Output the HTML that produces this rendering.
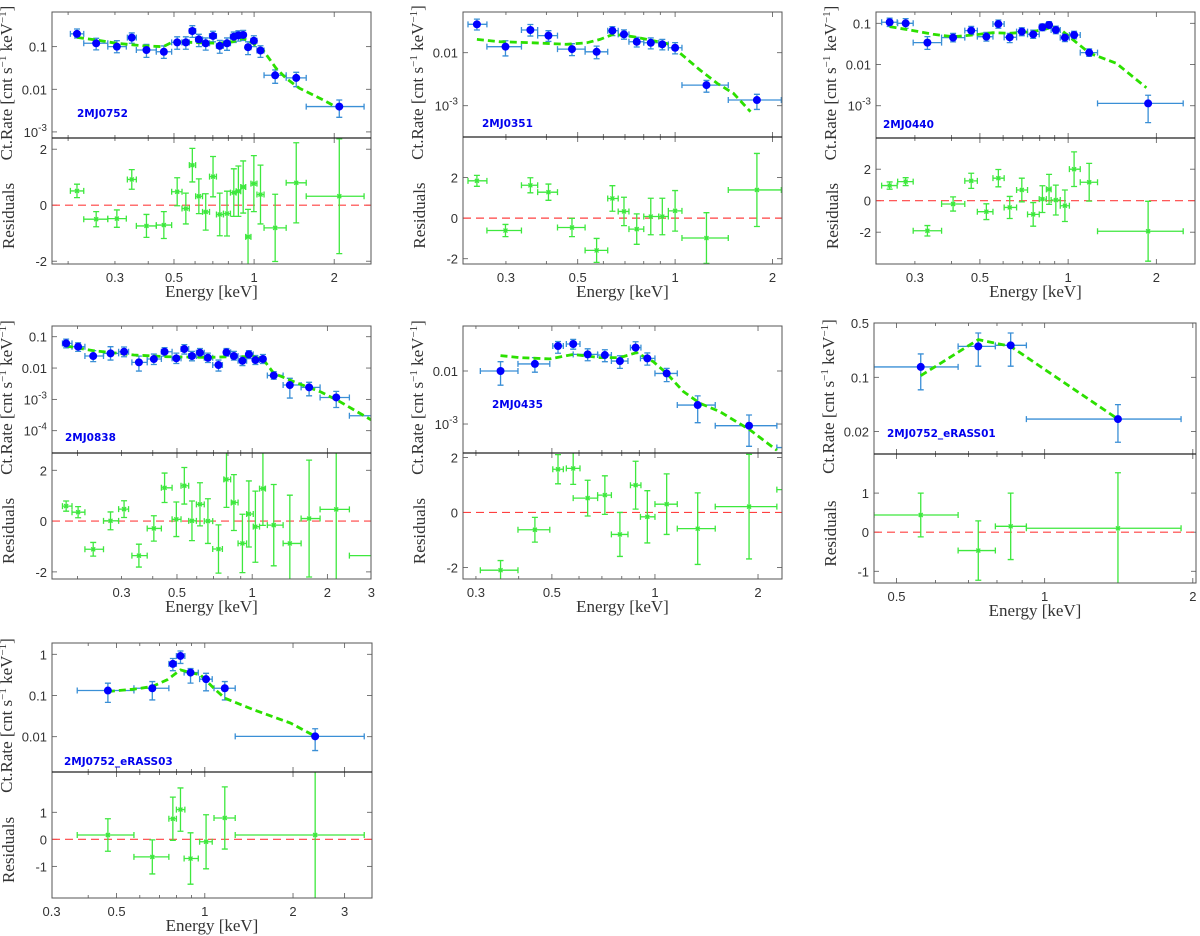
<!DOCTYPE html>
<html><head><meta charset="utf-8"><title>X-ray spectra</title>
<style>
html,body{margin:0;padding:0;background:#fff;}
svg{display:block;}
.tick{font-family:"Liberation Sans",sans-serif;font-size:13px;fill:#333;}
.axl{font-family:"Liberation Serif",serif;font-size:17px;fill:#333;}
.plab{font-family:"DejaVu Sans","Liberation Sans",sans-serif;font-size:10.5px;font-weight:bold;fill:#0000ee;}
</style></head>
<body>
<svg id="fig" xmlns="http://www.w3.org/2000/svg" width="1200" height="936" viewBox="0 0 1200 936"></svg>
<script>
// ---------- Panel 1: 2MJ0752 ----------
const P1_E   =[0.216,0.255,0.305,0.347,0.394,0.458,0.514,0.554,0.586,0.62,0.658,0.701,0.743,0.791,0.839,0.873,0.91,0.949,0.998,1.057,1.2,1.44,2.09];
const P1_Elo =[0.204,0.229,0.282,0.334,0.361,0.429,0.49,0.536,0.571,0.603,0.64,0.68,0.722,0.767,0.815,0.856,0.891,0.93,0.973,1.025,1.09,1.32,1.57];
const P1_Ehi =[0.229,0.282,0.331,0.361,0.429,0.49,0.536,0.571,0.603,0.64,0.68,0.722,0.767,0.815,0.856,0.891,0.93,0.973,1.025,1.09,1.32,1.57,2.59];
const P1_R   =[0.2,0.12,0.1,0.163,0.0835,0.076,0.126,0.126,0.233,0.148,0.12,0.178,0.104,0.12,0.171,0.184,0.188,0.097,0.138,0.081,0.0213,0.0185,0.00393];
const P1_Rlo =[0.16,0.084,0.072,0.12,0.056,0.053,0.087,0.087,0.165,0.1,0.083,0.13,0.07,0.082,0.125,0.135,0.14,0.065,0.1,0.056,0.0138,0.0115,0.0022];
const P1_Rhi =[0.26,0.157,0.138,0.21,0.113,0.104,0.17,0.17,0.31,0.195,0.16,0.23,0.14,0.16,0.22,0.235,0.24,0.13,0.18,0.105,0.0284,0.025,0.0056];
const P1_Res =[0.51,-0.5,-0.48,0.92,-0.74,-0.71,0.48,-0.12,1.43,0.32,-0.24,1.02,-0.33,-0.3,0.45,0.5,0.65,-1.13,0.77,0.38,-0.81,0.8,0.32];
const P1_ResErr=[0.24,0.27,0.31,0.35,0.41,0.48,0.5,0.55,0.6,0.62,0.65,0.72,0.76,0.8,0.85,0.9,0.93,0.98,1.0,1.05,1.2,1.43,2.05];
const P1_ME  =[0.216,0.255,0.304,0.383,0.455,0.496,0.625,0.743,0.834,0.909,0.991,1.08,1.21,1.32,1.48,1.82,2.04];
const P1_MV  =[0.165,0.143,0.12,0.105,0.1,0.131,0.124,0.12,0.131,0.157,0.12,0.0835,0.031,0.018,0.0106,0.0056,0.0038];
// ---------- Panel 2: 2MJ0351 ----------
const P2_E   =[0.244,0.299,0.357,0.406,0.48,0.572,0.64,0.695,0.761,0.841,0.913,1.0,1.25,1.79];
const P2_Elo =[0.229,0.262,0.335,0.376,0.433,0.527,0.619,0.667,0.72,0.8,0.89,0.953,1.05,1.46];
const P2_Ehi =[0.262,0.335,0.376,0.433,0.527,0.619,0.667,0.72,0.8,0.89,0.953,1.05,1.46,2.13];
const P2_R   =[0.0343,0.013,0.0268,0.021,0.0117,0.0104,0.026,0.0222,0.0161,0.0154,0.0144,0.0124,0.00245,0.00128];
const P2_Rlo =[0.0268,0.0087,0.0206,0.0163,0.0088,0.0077,0.021,0.018,0.0128,0.0118,0.0113,0.0095,0.0018,0.00085];
const P2_Rhi =[0.043,0.0168,0.034,0.026,0.0148,0.0133,0.031,0.027,0.0195,0.019,0.0178,0.0155,0.003,0.00164];
const P2_Res =[1.84,-0.61,1.62,1.28,-0.46,-1.59,0.97,0.33,-0.54,0.08,0.08,0.36,-0.98,1.39];
const P2_ResErr=[0.27,0.3,0.37,0.4,0.45,0.59,0.63,0.7,0.75,0.9,0.9,1.0,1.25,1.8];
const P2_ME  =[0.244,0.287,0.364,0.462,0.533,0.586,0.644,0.743,0.942,1.01,1.195,1.35,1.515,1.71];
const P2_MV  =[0.0178,0.0161,0.0154,0.0144,0.0154,0.0178,0.0222,0.02,0.015,0.0112,0.0047,0.00264,0.00171,0.00077];
// ---------- Panel 3: 2MJ0440 ----------
const P3_E   =[0.246,0.279,0.331,0.405,0.467,0.526,0.578,0.632,0.695,0.76,0.817,0.861,0.908,0.975,1.048,1.18,1.875];
const P3_Elo =[0.231,0.262,0.296,0.37,0.444,0.49,0.554,0.605,0.667,0.727,0.797,0.843,0.875,0.94,1.01,1.1,1.26];
const P3_Ehi =[0.261,0.296,0.37,0.444,0.49,0.554,0.605,0.667,0.727,0.797,0.843,0.875,0.94,1.01,1.1,1.26,2.47];
const P3_R   =[0.106,0.1,0.034,0.0449,0.0664,0.0474,0.096,0.0457,0.0628,0.054,0.08,0.091,0.069,0.045,0.052,0.0194,0.00114];
const P3_Rlo =[0.084,0.076,0.0233,0.0355,0.053,0.037,0.076,0.034,0.05,0.043,0.066,0.075,0.056,0.036,0.042,0.0158,0.00039];
const P3_Rhi =[0.133,0.13,0.0475,0.057,0.084,0.06,0.12,0.057,0.078,0.068,0.097,0.11,0.085,0.056,0.064,0.024,0.0018];
const P3_Res =[0.96,1.21,-1.91,-0.21,1.26,-0.7,1.43,-0.43,0.68,-0.87,0.1,0.72,0.04,-0.32,2.0,1.17,-1.94];
const P3_ResErr=[0.23,0.25,0.33,0.45,0.48,0.5,0.55,0.7,0.75,0.75,0.85,0.95,0.95,1.0,1.1,1.2,1.9];
const P3_ME  =[0.246,0.296,0.346,0.405,0.474,0.554,0.632,0.76,0.889,0.961,1.068,1.186,1.46,1.85];
const P3_MV  =[0.083,0.0664,0.054,0.0474,0.052,0.059,0.0572,0.0628,0.08,0.0628,0.034,0.0187,0.0107,0.00274];
// ---------- Panel 4: 2MJ0838 ----------
const P4_E   =[0.18,0.201,0.231,0.271,0.307,0.352,0.404,0.446,0.497,0.535,0.574,0.618,0.665,0.733,0.789,0.845,0.914,0.97,1.03,1.104,1.22,1.415,1.69,2.17,3.4];
const P4_Elo =[0.174,0.19,0.214,0.254,0.292,0.33,0.38,0.433,0.478,0.519,0.557,0.598,0.643,0.695,0.77,0.825,0.878,0.95,1.01,1.07,1.15,1.33,1.57,1.87,2.45];
const P4_Ehi =[0.19,0.214,0.254,0.292,0.32,0.38,0.433,0.478,0.519,0.557,0.598,0.643,0.695,0.76,0.82,0.878,0.95,1.01,1.07,1.13,1.33,1.57,1.87,2.45,4.5];
const P4_R   =[0.0613,0.048,0.0242,0.0294,0.0332,0.0152,0.0194,0.0332,0.0204,0.0404,0.0242,0.0309,0.0213,0.0125,0.0316,0.0242,0.0171,0.0273,0.018,0.0194,0.0058,0.00287,0.00242,0.00115,0.0003];
const P4_Rlo =[0.044,0.034,0.016,0.018,0.023,0.008,0.013,0.024,0.014,0.028,0.017,0.022,0.015,0.008,0.024,0.018,0.012,0.02,0.013,0.014,0.0044,0.0011,0.0013,0.00055,0.0001];
const P4_Rhi =[0.084,0.064,0.036,0.048,0.047,0.024,0.028,0.045,0.03,0.056,0.034,0.042,0.03,0.018,0.042,0.034,0.024,0.036,0.025,0.027,0.0077,0.0047,0.0035,0.0018,0.0006];
const P4_Res =[0.59,0.35,-1.11,0.01,0.47,-1.36,-0.29,1.31,0.07,1.39,0.01,0.66,0.0,-1.1,1.64,0.73,-0.88,0.28,-0.22,1.28,-0.16,-0.88,0.1,0.46,-1.36];
const P4_ResErr=[0.2,0.22,0.27,0.35,0.33,0.45,0.5,0.58,0.68,0.72,0.78,0.85,0.88,0.95,1.1,1.1,1.15,1.3,1.4,1.45,1.6,1.9,2.3,2.88,1.5];
const P4_ME  =[0.18,0.232,0.336,0.457,0.661,0.845,1.015,1.113,1.221,1.468,1.876,2.187,3.0];
const P4_MV  =[0.0504,0.0357,0.026,0.023,0.0219,0.023,0.023,0.018,0.0068,0.00366,0.00175,0.00095,0.00022];
// ---------- Panel 5: 2MJ0435 ----------
const P5_E   =[0.354,0.446,0.521,0.577,0.636,0.714,0.79,0.878,0.95,1.082,1.333,1.883,2.6];
const P5_Elo =[0.309,0.398,0.503,0.551,0.577,0.68,0.746,0.848,0.907,1.0,1.162,1.5,2.27];
const P5_Ehi =[0.398,0.493,0.54,0.604,0.68,0.746,0.834,0.91,1.0,1.162,1.5,2.27,3.0];
const P5_R   =[0.01,0.0136,0.0296,0.0323,0.0206,0.02,0.0154,0.0276,0.0173,0.009,0.00228,0.00093,0.00036];
const P5_Rlo =[0.0054,0.0095,0.0216,0.0258,0.0156,0.015,0.0112,0.0216,0.0129,0.0063,0.00106,0.00038,0.0001];
const P5_Rhi =[0.015,0.0179,0.036,0.0394,0.0262,0.0252,0.0194,0.0356,0.0219,0.0112,0.0034,0.00148,0.0007];
const P5_Res =[-2.1,-0.63,1.57,1.6,0.52,0.63,-0.8,0.99,-0.16,0.3,-0.59,0.21,0.83];
const P5_ResErr=[0.35,0.45,0.53,0.58,0.65,0.7,0.8,0.87,0.95,1.1,1.3,1.9,2.0];
const P5_ME  =[0.354,0.403,0.493,0.577,0.69,0.79,0.884,0.989,1.082,1.21,1.354,1.549,1.896,2.27];
const P5_MV  =[0.0195,0.0179,0.0169,0.0206,0.0179,0.0179,0.0222,0.015,0.009,0.0041,0.00246,0.00171,0.00077,0.00032];
// ---------- Panel 6: 2MJ0752_eRASS01 ----------
const P6_E   =[0.56,0.733,0.853,1.409];
const P6_Elo =[0.45,0.667,0.794,0.918];
const P6_Ehi =[0.667,0.794,0.918,1.893];
const P6_R   =[0.136,0.25,0.258,0.029];
const P6_Rlo =[0.069,0.139,0.139,0.0146];
const P6_Rhi =[0.2,0.372,0.372,0.0445];
const P6_Res =[0.44,-0.47,0.15,0.1];
const P6_ResErr=[0.56,0.76,0.85,1.42];
const P6_ME  =[0.56,0.733,0.853,1.409];
const P6_MV  =[0.105,0.306,0.25,0.029];
// ---------- Panel 7: 2MJ0752_eRASS03 ----------
const P7_E   =[0.467,0.662,0.778,0.826,0.894,1.01,1.17,2.38];
const P7_Elo =[0.367,0.573,0.754,0.8,0.85,0.96,1.075,1.27];
const P7_Ehi =[0.573,0.754,0.8,0.855,0.95,1.06,1.27,3.5];
const P7_R   =[0.132,0.15,0.584,0.911,0.36,0.249,0.15,0.0102];
const P7_Rlo =[0.068,0.078,0.4,0.6,0.2,0.13,0.078,0.0046];
const P7_Rhi =[0.199,0.218,0.79,1.2,0.45,0.345,0.218,0.0156];
const P7_Res =[0.16,-0.65,0.76,1.1,-0.71,-0.09,0.79,0.16];
const P7_ResErr=[0.6,0.63,0.8,0.8,0.95,1.0,1.15,2.4];
const P7_ME  =[0.467,0.573,0.662,0.744,0.826,0.894,0.967,1.073,1.17,1.47,1.96,2.38];
const P7_MV  =[0.125,0.142,0.165,0.24,0.418,0.36,0.316,0.15,0.086,0.045,0.0215,0.0102];

const NS="http://www.w3.org/2000/svg";
const svg=document.getElementById('fig');
function mk(tag,attrs,parent){const e=document.createElementNS(NS,tag);for(const k in attrs)e.setAttribute(k,attrs[k]);(parent||svg).appendChild(e);return e;}
const lg=Math.log10;

const panels=[
 {id:'p1',name:'2MJ0752',L:52,R:371,T:12,M:138,B:264,xmin:0.174,xmax:2.75,ymin:7.2e-4,ymax:0.65,rmin:-2.1,rmax:2.4,
  xt:[0.3,0.5,1,2],yt:[[0.1,'0.1'],[0.01,'0.01'],[1e-3,'e-3']],rt:[2,0,-2],lx:77,ly:113,
  d:[P1_E,P1_Elo,P1_Ehi,P1_R,P1_Rlo,P1_Rhi,P1_Res,P1_ResErr,P1_ME,P1_MV]},
 {id:'p2',name:'2MJ0351',L:463,R:782,T:12,M:137,B:264,xmin:0.221,xmax:2.14,ymin:2.57e-4,ymax:0.0586,rmin:-2.26,rmax:4.0,
  xt:[0.3,0.5,1,2],yt:[[0.01,'0.01'],[1e-3,'e-3']],rt:[2,0,-2],lx:482,ly:123,
  d:[P2_E,P2_Elo,P2_Ehi,P2_R,P2_Rlo,P2_Rhi,P2_Res,P2_ResErr,P2_ME,P2_MV]},
 {id:'p3',name:'2MJ0440',L:876,R:1195,T:12,M:138,B:264,xmin:0.221,xmax:2.71,ymin:1.65e-4,ymax:0.188,rmin:-4.02,rmax:3.98,
  xt:[0.3,0.5,1,2],yt:[[0.1,'0.1'],[0.01,'0.01'],[1e-3,'e-3']],rt:[2,0,-2],lx:883,ly:124,
  d:[P3_E,P3_Elo,P3_Ehi,P3_R,P3_Rlo,P3_Rhi,P3_Res,P3_ResErr,P3_ME,P3_MV]},
 {id:'p4',name:'2MJ0838',L:52,R:371,T:326,M:453,B:579,xmin:0.158,xmax:2.99,ymin:1.94e-5,ymax:0.22,rmin:-2.28,rmax:2.68,
  xt:[0.3,0.5,1,2,3],yt:[[0.1,'0.1'],[0.01,'0.01'],[1e-3,'e-3'],[1e-4,'e-4']],rt:[2,0,-2],lx:65,ly:437,
  d:[P4_E,P4_Elo,P4_Ehi,P4_R,P4_Rlo,P4_Rhi,P4_Res,P4_ResErr,P4_ME,P4_MV]},
 {id:'p5',name:'2MJ0435',L:463,R:782,T:326,M:453,B:579,xmin:0.275,xmax:2.35,ymin:2.84e-4,ymax:0.0706,rmin:-2.42,rmax:2.16,
  xt:[0.3,0.5,1,2],yt:[[0.01,'0.01'],[1e-3,'e-3']],rt:[2,0,-2],lx:492,ly:404,
  d:[P5_E,P5_Elo,P5_Ehi,P5_R,P5_Rlo,P5_Rhi,P5_Res,P5_ResErr,P5_ME,P5_MV]},
 {id:'p6',name:'2MJ0752_eRASS01',L:874,R:1196,T:323,M:454,B:583,xmin:0.45,xmax:2.03,ymin:0.0103,ymax:0.5,rmin:-1.3,rmax:2.0,
  xt:[0.5,1,2],yt:[[0.5,'0.5'],[0.1,'0.1'],[0.02,'0.02']],rt:[1,0,-1],lx:887,ly:433,
  d:[P6_E,P6_Elo,P6_Ehi,P6_R,P6_Rlo,P6_Rhi,P6_Res,P6_ResErr,P6_ME,P6_MV]},
 {id:'p7',name:'2MJ0752_eRASS03',L:52,R:372,T:643,M:772,B:898,xmin:0.301,xmax:3.72,ymin:1.39e-3,ymax:1.88,rmin:-2.17,rmax:2.49,
  xt:[0.3,0.5,1,2,3],yt:[[1,'1'],[0.1,'0.1'],[0.01,'0.01']],rt:[1,0,-1],lx:64,ly:761,
  d:[P7_E,P7_Elo,P7_Ehi,P7_R,P7_Rlo,P7_Rhi,P7_Res,P7_ResErr,P7_ME,P7_MV]}
];

const EB='#3a8fd6', RESC='#3ee83e', MODC='#2ce000';

panels.forEach(function(p){
  const [E,Elo,Ehi,R,Rlo,Rhi,Res,RErr,ME,MV]=p.d;
  const xs=v=>p.L+(lg(v)-lg(p.xmin))/(lg(p.xmax)-lg(p.xmin))*(p.R-p.L);
  const ys=v=>p.T+(lg(p.ymax)-lg(v))/(lg(p.ymax)-lg(p.ymin))*(p.M-p.T);
  const rs=v=>p.M+(p.rmax-v)/(p.rmax-p.rmin)*(p.B-p.M);
  const g=mk('g',{});
  
  
  const defs=mk('defs',{},g);
  const c1=mk('clipPath',{id:p.id+'ct'},defs);mk('rect',{x:p.L,y:p.T,width:p.R-p.L,height:p.M-p.T},c1);
  const c2=mk('clipPath',{id:p.id+'cb'},defs);mk('rect',{x:p.L,y:p.M,width:p.R-p.L,height:p.B-p.M},c2);
  const minors=[];
  [0.1,1].forEach(dec=>{for(let k=1;k<10;k++){const v=k*dec;if(v>p.xmin&&v<p.xmax)minors.push(v);}});
  minors.forEach(v=>{
    const x=xs(v), major=p.xt.indexOf(v)>=0, len=major?5:3;
    [[p.T,1],[p.M,-1],[p.M,1],[p.B,-1]].forEach(([y0,s])=>mk('line',{x1:x,x2:x,y1:y0,y2:y0+s*len,stroke:'#555','stroke-width':0.8},g));
  });
  p.yt.forEach(([v,lab])=>{
    const y=ys(v);
    mk('line',{x1:p.L,x2:p.L+5,y1:y,y2:y,stroke:'#555','stroke-width':0.8},g);
    mk('line',{x1:p.R,x2:p.R-5,y1:y,y2:y,stroke:'#555','stroke-width':0.8},g);
    const t=mk('text',{x:p.L-5,y:y+5,'text-anchor':'end',class:'tick'},g);
    
    
    if(lab.startsWith('e')){t.appendChild(document.createTextNode('10'));const s=mk('tspan',{dy:-6,'font-size':'10'},t);s.textContent=lab.slice(1);}
    else t.textContent=lab;
  });
  p.rt.forEach(v=>{
    const y=rs(v);
    mk('line',{x1:p.L,x2:p.L+5,y1:y,y2:y,stroke:'#555','stroke-width':0.8},g);
    mk('line',{x1:p.R,x2:p.R-5,y1:y,y2:y,stroke:'#555','stroke-width':0.8},g);
    const t=mk('text',{x:p.L-5,y:y+5,'text-anchor':'end',class:'tick'},g);
    
    
    t.textContent=String(v);
  });
  p.xt.forEach(v=>{
    const t=mk('text',{x:xs(v),y:p.B+18,'text-anchor':'middle',class:'tick'},g);
    
    
    t.textContent=String(v);
  });
  const z=mk('line',{x1:p.L,x2:p.R,y1:rs(0),y2:rs(0),stroke:'#ff4040','stroke-width':1.2,'stroke-dasharray':'8,5'},g);
  
  
  const gt=mk('g',{'clip-path':'url(#'+p.id+'ct)'},g);
  for(let i=0;i<E.length;i++){
    const x=xs(E[i]),y=ys(R[i]),x1=xs(Elo[i]),x2=xs(Ehi[i]),y1=ys(Rhi[i]),y2=ys(Rlo[i]);
    const eb=mk('path',{d:`M${x1},${y}H${x2}M${x1},${y-3}V${y+3}M${x2},${y-3}V${y+3}M${x},${y1}V${y2}M${x-3},${y1}H${x+3}M${x-3},${y2}H${x+3}`,stroke:EB,'stroke-width':1.3,fill:'none'},gt);
    
    
  }
  const mp=ME.map((e,i)=>(i?'L':'M')+xs(e).toFixed(1)+','+ys(MV[i]).toFixed(1)).join('');
  const ml=mk('path',{d:mp,stroke:MODC,'stroke-width':2.8,fill:'none','stroke-dasharray':'7,4'},gt);
  
  
  for(let i=0;i<E.length;i++){
    const c=mk('circle',{cx:xs(E[i]),cy:ys(R[i]),r:4,fill:'#0000ff'},gt);
    
    
  }
  const gb=mk('g',{'clip-path':'url(#'+p.id+'cb)'},g);
  for(let i=0;i<E.length;i++){
    const x=xs(E[i]),y=rs(Res[i]),x1=xs(Elo[i]),x2=xs(Ehi[i]),y1=rs(Res[i]+RErr[i]),y2=rs(Res[i]-RErr[i]);
    const eb=mk('path',{d:`M${x1},${y}H${x2}M${x1},${y-3}V${y+3}M${x2},${y-3}V${y+3}M${x},${y1}V${y2}M${x-3},${y1}H${x+3}M${x-3},${y2}H${x+3}M${x-2},${y-2}L${x+2},${y+2}M${x-2},${y+2}L${x+2},${y-2}`,stroke:RESC,'stroke-width':1.3,fill:'none'},gb);
    
    
  }
  const f1=mk('rect',{x:p.L,y:p.T,width:p.R-p.L,height:p.M-p.T,fill:'none',stroke:'#555','stroke-width':1},g);
  
  
  const f2=mk('rect',{x:p.L,y:p.M,width:p.R-p.L,height:p.B-p.M,fill:'none',stroke:'#555','stroke-width':1},g);
  
  
  mk('line',{x1:p.L,x2:p.R,y1:p.M,y2:p.M,stroke:'#222','stroke-width':1.3},g);
  const lb=mk('text',{x:p.lx,y:p.ly+4,class:'plab'},g);
  
  
  lb.textContent=p.name;
  const cy=(p.T+p.M)/2+8, ax=p.L-40;
  const yt=mk('text',{x:ax,y:cy,class:'axl','text-anchor':'middle',transform:`rotate(-90 ${ax} ${cy})`},g);
  
  
  yt.appendChild(document.createTextNode('Ct.Rate [cnt s'));
  let s=mk('tspan',{dy:-6,'font-size':'11'},yt);s.textContent='−1';
  s=mk('tspan',{dy:6},yt);s.textContent=' keV';
  s=mk('tspan',{dy:-6,'font-size':'11'},yt);s.textContent='−1';
  s=mk('tspan',{dy:6},yt);s.textContent=']';
  const ry=(p.M+p.B)/2+15;
  const rt=mk('text',{x:ax+2,y:ry,class:'axl','text-anchor':'middle',transform:`rotate(-90 ${ax+2} ${ry})`},g);
  
  
  rt.textContent='Residuals';
  const xl=mk('text',{x:(p.L+p.R)/2,y:p.B+33,class:'axl','text-anchor':'middle'},g);
  
  
  xl.textContent='Energy [keV]';
});
</script>
</body></html>
